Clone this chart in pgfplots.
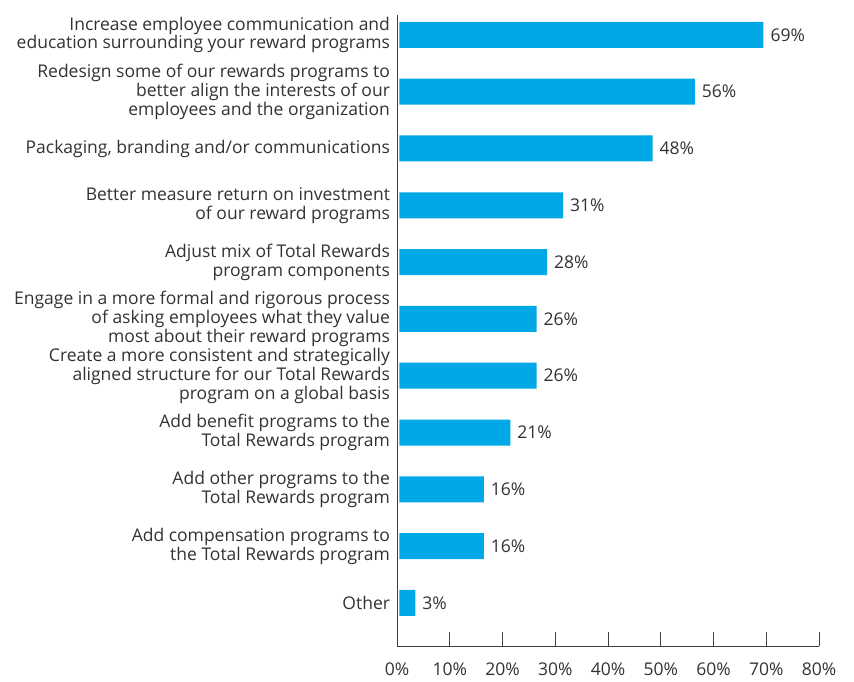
\documentclass[border=0pt]{standalone}
\usepackage{pgfplots}
\pgfplotsset{compat=1.18}
\usepackage{fontspec}
\setmainfont{Open Sans}
\definecolor{barblue}{RGB}{0,169,230}
\definecolor{txt}{RGB}{50,50,50}
\newcommand{\chartfont}{\fontsize{17.5}{18.8}\selectfont}
\begin{document}
\chartfont
\begin{tikzpicture}
\begin{axis}[
  xbar,
  scale only axis,
  width=422pt, height=631pt,
  xmin=0, xmax=80, ymin=-0.757, ymax=10.35,
  axis x line=bottom, axis y line=left,
  axis line style={-, draw=black!75, line width=0.8pt},
  xtick={0,10,...,80},
  /pgf/number format/assume math mode=true,
  xticklabel={\pgfmathprintnumber{\tick}\%},
  xtick align=inside,
  major tick length=14pt,
  x tick style={draw=black!75, line width=0.8pt},
  x tick label style={text=txt, font=\chartfont, yshift=-11pt},
  ytick={0,...,10},
  yticklabels={
    Other,
    {Add compensation programs to\\the Total Rewards program},
    {Add other programs to the\\Total Rewards program},
    {Add benefit programs to the\\Total Rewards program},
    {Create a more consistent and strategically\\aligned structure for our Total Rewards\\program on a global basis},
    {Engage in a more formal and rigorous process\\of asking employees what they value\\most about their reward programs},
    {Adjust mix of Total Rewards\\program components},
    {Better measure return on investment\\of our reward programs},
    {Packaging, branding and/or communications},
    {Redesign some of our rewards programs to\\better align the interests of our\\employees and the organization},
    {Increase employee communication and\\education surrounding your reward programs}
  },
  y tick style={draw=none},
  y tick label style={align=right, text=txt, font=\chartfont, xshift=6pt},
  bar width=26pt,
  nodes near coords={\pgfmathprintnumber{\pgfplotspointmeta}\%},
  every node near coord/.append style={text=txt, font=\chartfont, xshift=1pt},
]
\addplot[fill=barblue, draw=none, xshift=2.5pt] coordinates {
  (3,0) (16,1) (16,2) (21,3) (26,4) (26,5) (28,6) (31,7) (48,8) (56,9) (69,10)};
\coordinate (O) at (rel axis cs:0,0);
\end{axis}
\pgfresetboundingbox
\useasboundingbox (O) ++(-397pt,-36pt) rectangle ++(854pt,682pt);
\end{tikzpicture}
\end{document}
